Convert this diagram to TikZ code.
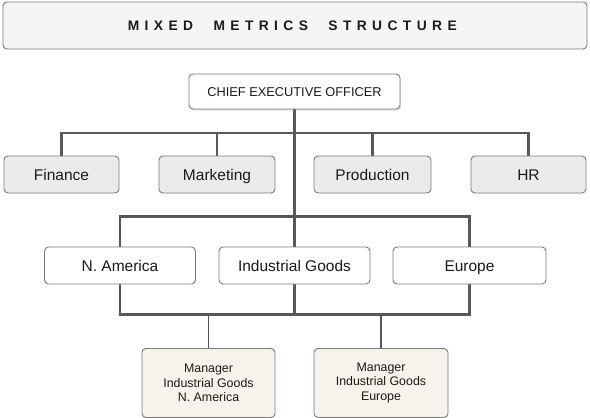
\documentclass[tikz,border=0pt]{standalone}
\usepackage{fontspec}
\setmainfont{Liberation Sans}
\usetikzlibrary{shadows,backgrounds}
\definecolor{boxborder}{HTML}{7A7A7A}
\definecolor{linecol}{HTML}{585858}
\definecolor{titlefill}{HTML}{F5F5F5}
\definecolor{deptfill}{HTML}{EBEBEB}
\definecolor{mgrfill}{HTML}{F7F3EA}
\definecolor{textcol}{HTML}{1A1A1A}
\def\spaceout#1{\spaceoutA#1\relax}
\def\spaceoutA#1{\ifx#1\relax\else#1\kern5.4pt\expandafter\spaceoutA\fi}
\begin{document}
\begin{tikzpicture}[x=1pt,y=-1pt,
  basebox/.style={draw=boxborder, line width=0.9pt, rounded corners=4pt, inner sep=0pt, text=textcol},
  titlebox/.style={basebox, fill=titlefill, minimum width=584pt, minimum height=47pt, text height=10pt, text depth=0pt},
  ceobox/.style={basebox, fill=white, minimum width=211pt, minimum height=35pt, font=\fontsize{12.8}{14}\selectfont,
     text height=9.2pt, text depth=0pt,
     drop shadow={shadow xshift=1pt, shadow yshift=-1.5pt, opacity=0.25}},
  deptbox/.style={basebox, fill=deptfill, minimum height=37pt, font=\fontsize{15.5}{18}\selectfont, text height=11.2pt, text depth=0pt},
  regbox/.style={basebox, fill=white, minimum width=151pt, minimum height=37pt, font=\fontsize{15.5}{18}\selectfont, text height=11.2pt, text depth=0pt},
  mgrbox/.style={basebox, fill=mgrfill, minimum height=69pt, align=center, font=\fontsize{12.4}{14.7}\selectfont},
  conn/.style={draw=linecol, line width=2.6pt},
  thinconn/.style={draw=linecol, line width=1.8pt}
]
\useasboundingbox (0,0) rectangle (590,418);
\node[titlebox] (title) at (295,25.5) {\fontsize{13.8}{16}\selectfont\bfseries\spaceout{MIXED}\kern15pt\spaceout{METRICS}\kern15pt\spaceout{STRUCTURE}};
\coordinate (bus1) at (294.5,133);
\coordinate (bus2) at (294.5,216.5);
\coordinate (bus3) at (294.5,314.5);
% nodes
\node[ceobox] (ceo) at (294.5,91.5) {CHIEF EXECUTIVE OFFICER};
\node[deptbox, minimum width=115pt] (fin) at (61.5,174.5) {Finance};
\node[deptbox, minimum width=116pt] (mkt) at (217,174.5) {Marketing};
\node[deptbox, minimum width=117pt] (pro) at (372.5,174.5) {Production};
\node[deptbox, minimum width=115pt] (hr) at (528.5,174.5) {HR};
\node[regbox] (na) at (120,265.5) {N. America};
\node[regbox] (ig) at (294.5,265.5) {Industrial Goods};
\node[regbox, minimum width=153pt] (eu) at (469.5,265.5) {Europe};
\node[mgrbox, minimum width=133pt] (m1) at (208.5,383) {Manager\\Industrial Goods\\N. America};
\node[mgrbox, minimum width=134pt] (m2) at (381,383) {Manager\\Industrial Goods\\Europe};
% connectors
\begin{scope}[on background layer]
\draw[conn] (ceo.south) -- (ig.north);
\draw[conn] (fin.north) |- (bus1) -| (hr.north);
\draw[conn] (mkt.north) -- (mkt.north |- bus1);
\draw[conn] (pro.north) -- (pro.north |- bus1);
\draw[conn] (na.north) |- (bus2) -| (eu.north);
\draw[conn] (na.south) |- (bus3) -| (eu.south);
\draw[conn] (ig.south) -- (bus3);
\draw[thinconn] (m1.north) -- (m1.north |- bus3);
\draw[thinconn] (m2.north) -- (m2.north |- bus3);
\end{scope}
\end{tikzpicture}
\end{document}
